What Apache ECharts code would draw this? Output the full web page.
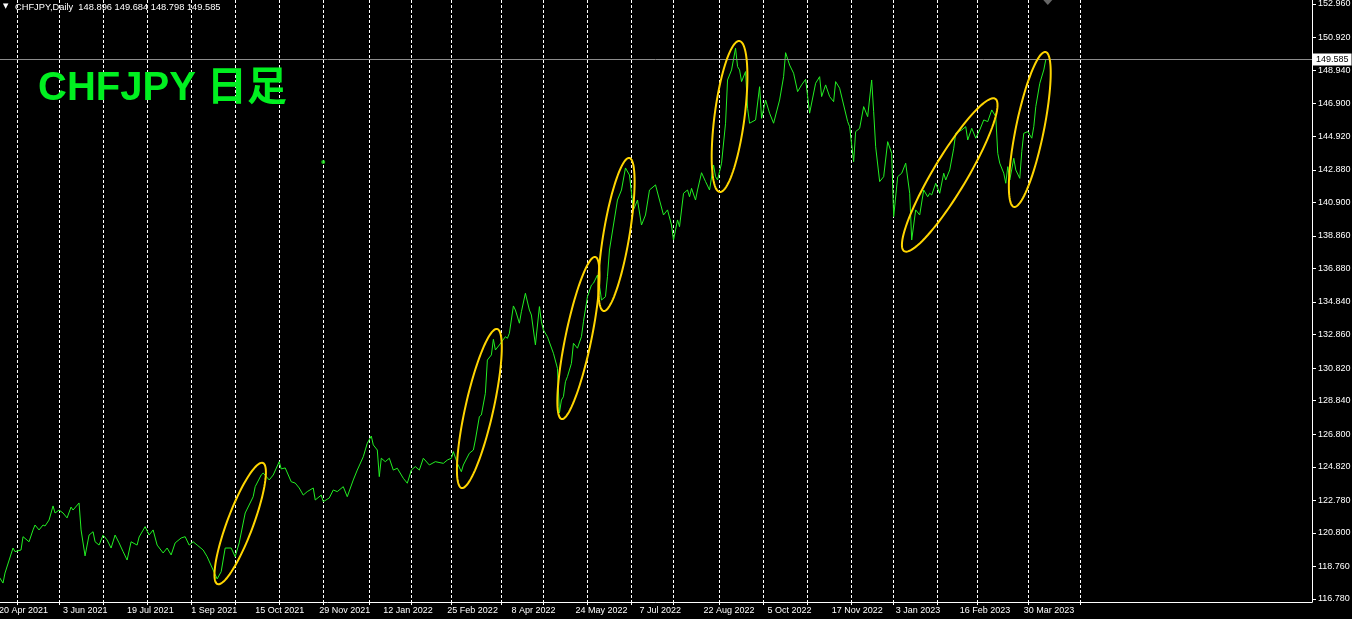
<!DOCTYPE html>
<html><head><meta charset="utf-8">
<script src="https://cdn.jsdelivr.net/npm/echarts@6/dist/echarts.min.js"></script>
<style>html,body{margin:0;padding:0;background:#000;}#c{width:1352px;height:619px;}</style>
</head><body><div id="c"></div>
<script>
// ---------- data ----------
const headerText = 'CHFJPY,Daily  148.896 149.684 148.798 149.585';
const chartTitle = 'CHFJPY 日足';
const barCount = 657; // bars on the time scale incl. empty right margin
const xTickLabels = ['20 Apr 2021','3 Jun 2021','19 Jul 2021','1 Sep 2021','15 Oct 2021','29 Nov 2021','12 Jan 2022','25 Feb 2022','8 Apr 2022','24 May 2022','7 Jul 2022','22 Aug 2022','5 Oct 2022','17 Nov 2022','3 Jan 2023','16 Feb 2023','30 Mar 2023'];
const xLabelEvery = 32;
const monthStartBars = [9,30,52,74,96,118,140,162,185,206,226,251,272,294,316,337,360,382,404,426,447,469,489,514,540];
const yTickValues = [116.78,118.76,120.80,122.78,124.82,126.80,128.84,130.82,132.86,134.84,136.88,138.86,140.90,142.88,144.92,146.90,148.94,150.92,152.96];
const yMin = 116.598, yMax = 153.203;
const lastPrice = 149.585;

const priceBars = [0,2,3,7,8,11,12,15,17,18,20,22,23,25,27,28,30,32,34,36,37,40,41,43,45,47,48,50,52,54,56,58,60,62,64,66,69,70,73,75,77,79,82,84,86,88,91,93,95,97,99,102,104,107,109,111,113,116,118,120,123,127,128,131,132,135,137,140,141,143,146,148,150,152,154,157,158,161,162,165,167,169,172,174,177,179,182,184,186,187,189,190,191,193,195,197,199,202,204,206,208,210,212,215,218,222,224,226,227,229,231,232,235,237,238,240,241,243,244,246,247,248,250,253,254,255,257,258,260,261,263,265,266,268,270,271,272,274,277,279,280,281,282,283,284,286,287,289,291,292,294,296,297,299,300,301,303,304,305,307,309,311,313,315,317,319,321,323,325,328,330,332,334,336,337,339,340,342,344,345,346,348,349,351,353,355,357,358,359,361,363,364,366,368,369,370,371,373,374,375,378,380,381,383,385,387,390,392,393,395,397,399,401,403,405,408,410,411,413,415,417,418,420,422,424,425,427,428,430,432,434,436,437,438,440,442,444,446,447,449,451,453,455,456,458,460,462,464,465,466,468,470,472,473,475,477,478,481,483,484,486,488,490,492,494,496,498,499,500,502,503,504,505,507,508,510,511,512,514,516,517,518,520,522,523];
const priceValues = [118.14,117.75,118.36,119.88,119.66,119.76,120.57,120.26,120.98,121.28,120.98,121.28,121.22,121.58,122.44,122.01,122.19,122.01,121.71,122.37,122.19,122.62,120.98,119.40,120.67,120.87,120.26,120.06,120.67,120.37,119.88,120.67,120.19,119.66,119.15,120.26,120.06,120.55,121.18,120.67,120.98,120.06,119.58,119.88,119.46,120.19,120.49,120.57,120.06,120.26,120.06,119.76,119.35,118.54,118.00,118.44,119.88,119.88,119.35,120.19,122.01,123.00,123.61,124.32,124.44,124.02,124.32,125.13,124.69,124.75,123.91,123.83,123.53,123.10,123.31,123.53,122.80,123.10,122.70,122.92,123.41,123.31,123.61,123.00,124.02,124.62,125.43,126.25,126.69,126.15,125.84,124.22,125.34,125.13,125.34,124.62,124.73,124.12,123.82,124.62,124.83,124.62,125.34,124.93,125.13,125.03,125.23,125.34,125.74,125.03,124.52,124.93,125.64,125.84,126.45,127.87,127.97,129.29,131.31,131.62,132.57,131.92,132.23,132.73,132.63,132.94,134.60,134.35,133.55,134.25,135.37,134.35,134.05,132.23,134.56,133.64,133.14,132.73,131.72,130.81,128.09,128.88,129.08,129.99,130.30,131.11,132.33,132.03,132.73,133.64,135.16,135.87,135.98,136.48,135.87,134.96,135.16,136.38,138.00,139.52,141.04,141.65,142.99,142.56,140.44,141.04,139.52,140.13,141.65,141.96,141.04,140.13,140.44,139.52,138.61,139.83,139.42,141.45,141.65,141.24,141.75,141.04,141.65,142.70,142.16,141.65,143.17,142.46,142.26,143.28,145.71,148.34,148.95,150.27,149.15,148.95,148.24,148.85,146.62,145.71,145.91,147.93,146.01,147.12,146.32,145.71,147.12,148.54,150.00,149.25,148.75,147.63,148.04,148.38,146.32,148.14,148.54,147.33,148.04,147.33,147.02,148.24,147.84,146.82,145.81,145.50,143.37,145.20,145.40,146.72,146.11,148.34,146.41,144.28,142.16,142.46,144.59,143.88,140.03,142.46,142.67,143.28,141.45,138.61,140.44,140.13,141.65,141.24,141.45,141.35,142.06,141.45,142.67,142.26,142.87,144.19,145.10,145.30,145.50,144.69,145.40,144.80,145.30,145.91,145.81,146.52,146.11,143.88,143.28,142.67,142.06,143.07,142.26,143.58,142.87,142.36,143.98,145.10,145.20,144.80,145.50,146.72,148.14,148.95,149.585];

// single green dot object on the chart
const dotBar = 162, dotPrice = 143.35;
// chart-shift marker sits above the last bar
const shiftBar = 524;

// yellow ellipses: the two tips of the long axis (bar, price)
const ellipseBarA   = [132, 249, 298, 314.5, 370, 498, 523];
const ellipsePriceA = [125.11, 133.26, 137.64, 143.66, 150.77, 147.25, 150.10];
const ellipseBarB   = [108.5, 231, 281, 301.5, 359.5, 452, 507];
const ellipsePriceB = [117.63, 123.47, 127.66, 134.23, 141.47, 137.88, 140.56];
// ---------- style ----------
const ellipseHalfWidthPx = [13, 14, 13, 13, 15, 17, 14];
const LINE_GREEN = '#22ee22';
const TITLE_GREEN = '#00f020';
const GOLD = '#ffd500';
const FONT = "'Liberation Sans', 'DejaVu Sans', sans-serif";

const categories = Array.from({length: barCount}, (_, i) => String(i));
const monthSet = new Set(monthStartBars);
const lineData = priceBars.map((b, i) => [b, priceValues[i]]);

const chart = echarts.init(document.getElementById('c'), null, {renderer: 'canvas'});
chart.setOption({
  backgroundColor: '#000',
  animation: false,
  title: [
    {text: '▼', left: 3, top: 3, padding: 0, textStyle: {color: '#fff', fontSize: 7, fontWeight: 'normal', fontFamily: "'DejaVu Sans'"}},
    {text: headerText, left: 15, top: 3, padding: 0, textStyle: {color: '#fff', fontSize: 9.3, fontWeight: 'normal', fontFamily: FONT}},
    {text: chartTitle, left: 38, top: 69, padding: 0, textStyle: {color: TITLE_GREEN, fontSize: 40, fontWeight: 'bold', fontFamily: "'Liberation Sans', 'Noto Sans CJK JP', sans-serif"}}
  ],
  grid: {left: -1, right: 40, top: 0, bottom: 17, containLabel: false, outerBoundsMode: 'none'},
  xAxis: {
    type: 'category', data: categories, boundaryGap: false,
    axisLine: {show: true, lineStyle: {color: '#fff', width: 1}},
    axisTick: {show: true, length: 3, interval: (i) => monthSet.has(i), lineStyle: {color: '#fff'}},
    axisLabel: {
      interval: (i) => i % xLabelEvery === 0 && i / xLabelEvery < xTickLabels.length,
      formatter: (v, i) => xTickLabels[Math.round(Number(v) / xLabelEvery)] || '',
      align: 'left', color: '#fff', fontSize: 9, fontFamily: FONT, margin: 4
    },
    splitLine: {show: true, interval: (i) => monthSet.has(i), lineStyle: {color: '#fff', width: 1, type: [3, 2]}}
  },
  yAxis: {
    type: 'value', position: 'right', min: yMin, max: yMax, scale: true,
    axisLine: {show: true, lineStyle: {color: '#fff', width: 1}},
    axisTick: {show: true, length: 4, customValues: yTickValues, lineStyle: {color: '#fff'}},
    axisLabel: {customValues: yTickValues, formatter: (v) => Number(v).toFixed(3), color: '#fff', fontSize: 9, fontFamily: FONT, margin: 6},
    splitLine: {show: false}
  },
  series: [
    {
      type: 'line', data: lineData, showSymbol: false, symbol: 'none',
      lineStyle: {color: LINE_GREEN, width: 1}, z: 3, silent: true,
      markLine: {
        silent: true, symbol: 'none', animation: false,
        data: [{yAxis: lastPrice}],
        lineStyle: {color: '#8c8c8c', type: 'solid', width: 1},
        label: {position: 'end', distance: 1, formatter: lastPrice.toFixed(3), backgroundColor: '#fff', color: '#000', fontSize: 9, fontFamily: FONT, padding: [2, 3, 1, 3]}
      }
    },
    {
      type: 'scatter', data: [[dotBar, dotPrice]], symbol: 'circle', symbolSize: 4,
      itemStyle: {color: '#22ee22'}, silent: true, z: 4
    },
    {
      type: 'scatter', data: [[shiftBar, yMax]], symbol: 'triangle', symbolRotate: 180, symbolSize: [9, 5], symbolOffset: [0, 2.5],
      itemStyle: {color: '#7f7f7f'}, silent: true, z: 4, clip: false
    },
    {
      type: 'custom', silent: true, z: 5, clip: false,
      data: ellipseBarA.map((b, i) => [b, ellipsePriceA[i]]),
      renderItem: function (params, api) {
        const i = params.dataIndex;
        const a = api.coord([ellipseBarA[i], ellipsePriceA[i]]);
        const b = api.coord([ellipseBarB[i], ellipsePriceB[i]]);
        const cx = (a[0] + b[0]) / 2, cy = (a[1] + b[1]) / 2;
        const dx = b[0] - a[0], dy = b[1] - a[1];
        const L = Math.sqrt(dx * dx + dy * dy) / 2 - 1;
        const ang = Math.atan2(dy, dx);
        const w = ellipseHalfWidthPx[i];
        const pts = [];
        for (let k = 0; k < 96; k++) {
          const t = k / 96 * Math.PI * 2;
          const u = L * Math.cos(t), v = w * Math.sin(t);
          pts.push([cx + u * Math.cos(ang) - v * Math.sin(ang), cy + u * Math.sin(ang) + v * Math.cos(ang)]);
        }
        return {type: 'polygon', shape: {points: pts}, style: {fill: null, stroke: GOLD, lineWidth: 2}};
      }
    }
  ]
});
</script></body></html>
